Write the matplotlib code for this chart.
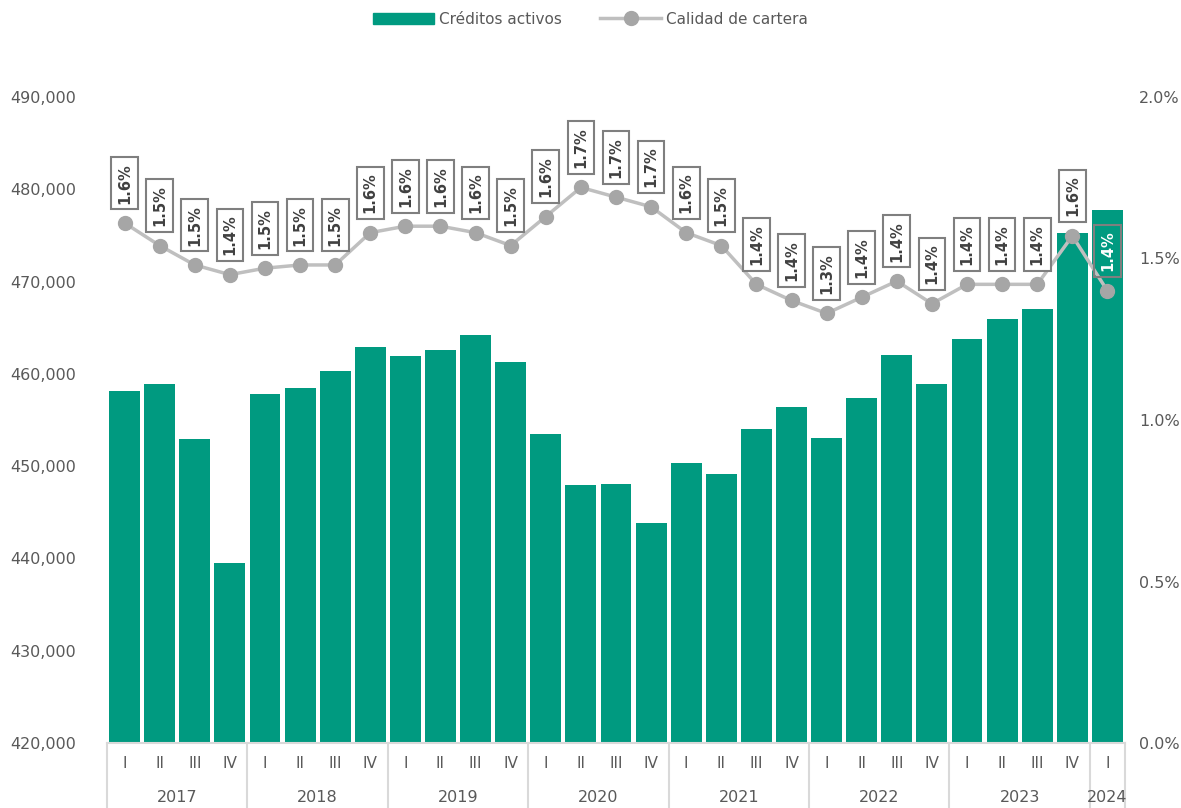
import matplotlib
matplotlib.use("Agg")
import matplotlib.pyplot as plt
from matplotlib.transforms import blended_transform_factory
from matplotlib.lines import Line2D
from matplotlib.patches import Patch

years = ["2017", "2018", "2019", "2020", "2021", "2022", "2023", "2024"]
quarters = ["I", "II", "III", "IV"] * 7 + ["I"]
creditos = [458100, 458900, 452900, 439500,
            457800, 458500, 460300, 462900,
            461900, 462600, 464200, 461300,
            453500, 448000, 448100, 443800,
            450300, 449100, 454000, 456400,
            453000, 457400, 462000, 458900,
            463800, 465900, 467000, 475300,
            477800]
calidad = [1.61, 1.54, 1.48, 1.45,
           1.47, 1.48, 1.48, 1.58,
           1.60, 1.60, 1.58, 1.54,
           1.63, 1.72, 1.69, 1.66,
           1.58, 1.54, 1.42, 1.37,
           1.33, 1.38, 1.43, 1.36,
           1.42, 1.42, 1.42, 1.57,
           1.40]
left_ticks = [420000, 430000, 440000, 450000, 460000, 470000, 480000, 490000]
right_ticks = [0.0, 0.5, 1.0, 1.5, 2.0]

GREEN = "#009A80"
GRAY_TXT = "#595959"
FONT = "DejaVu Sans"
plt.rcParams["font.family"] = [FONT]

W, H = 1181, 808
fig = plt.figure(figsize=(W / 100, H / 100), dpi=100)
ax = fig.add_axes([107 / W, (H - 743) / H, (1125 - 107) / W, (743 - 97) / H])
n = len(creditos)
x = list(range(n))
ax.bar(x, creditos, width=0.88, color=GREEN, zorder=2)
ax.set_xlim(-0.5, n - 0.5)
ax.set_ylim(420000, 490000)
ax.set_yticks(left_ticks)
ax.set_yticklabels([f"{v:,}" for v in left_ticks], fontsize=11.5, color=GRAY_TXT)
ax.tick_params(axis="y", length=0, pad=22)
ax.set_xticks([])
for s in ["top", "right", "left"]:
    ax.spines[s].set_visible(False)
ax.spines["bottom"].set_color("#D9D9D9")
ax.spines["bottom"].set_linewidth(1.5)

ax2 = ax.twinx()
ax2.set_ylim(0, 2.0)
ax2.set_yticks(right_ticks)
ax2.set_yticklabels([f"{v:.1f}%" for v in right_ticks], fontsize=11.5, color=GRAY_TXT)
ax2.tick_params(axis="y", length=0, pad=10)
for s in ["top", "right", "left", "bottom"]:
    ax2.spines[s].set_visible(False)
ax2.plot(x, calidad, color="#BFBFBF", lw=2.5, marker="o", markersize=10,
         markerfacecolor="#A6A6A6", markeredgecolor="#A6A6A6", zorder=3)

for i, v in enumerate(calidad):
    last = i == n - 1
    ax2.annotate(f"{v:.1f}%", (i, v), xytext=(0, 14), textcoords="offset points",
                 rotation=90, ha="center", va="bottom", fontsize=10.5, fontweight="bold",
                 color="white" if last else "#404040",
                 bbox=dict(boxstyle="square,pad=0.4", fc="none" if last else "white",
                           ec="#7F7F7F", lw=1.5), zorder=4)

# category axis
tr = blended_transform_factory(ax.transData, ax.transAxes)
depth = -(808 - 743) / (743 - 97)
for i, q in enumerate(quarters):
    ax.text(i, -(763 - 743) / (743 - 97), q, transform=tr, ha="center", va="center",
            fontsize=11, color=GRAY_TXT)
bounds = [-0.5] + [3.5 + 4 * k for k in range(7)] + [n - 0.5]
for b in bounds:
    ax.plot([b, b], [0, depth], transform=tr, color="#D9D9D9", lw=1.5, clip_on=False)
for k, yname in enumerate(years):
    a, b = bounds[k], bounds[k + 1]
    ax.text((a + b) / 2, -(797 - 743) / (743 - 97), yname, transform=tr, ha="center",
            va="center", fontsize=11.5, color=GRAY_TXT)

handles = [Patch(color=GREEN),
           Line2D([0], [0], color="#BFBFBF", lw=2.5, marker="o", markersize=10,
                  markerfacecolor="#A6A6A6", markeredgecolor="#A6A6A6")]
fig.legend(handles, ["Créditos activos", "Calidad de cartera"], loc="center",
           bbox_to_anchor=(0.5, 1 - 19 / H), ncol=2, frameon=False, fontsize=11,
           labelcolor=GRAY_TXT, handlelength=4, columnspacing=2.5, handletextpad=0.3)

fig.savefig("out.png", dpi=100)
